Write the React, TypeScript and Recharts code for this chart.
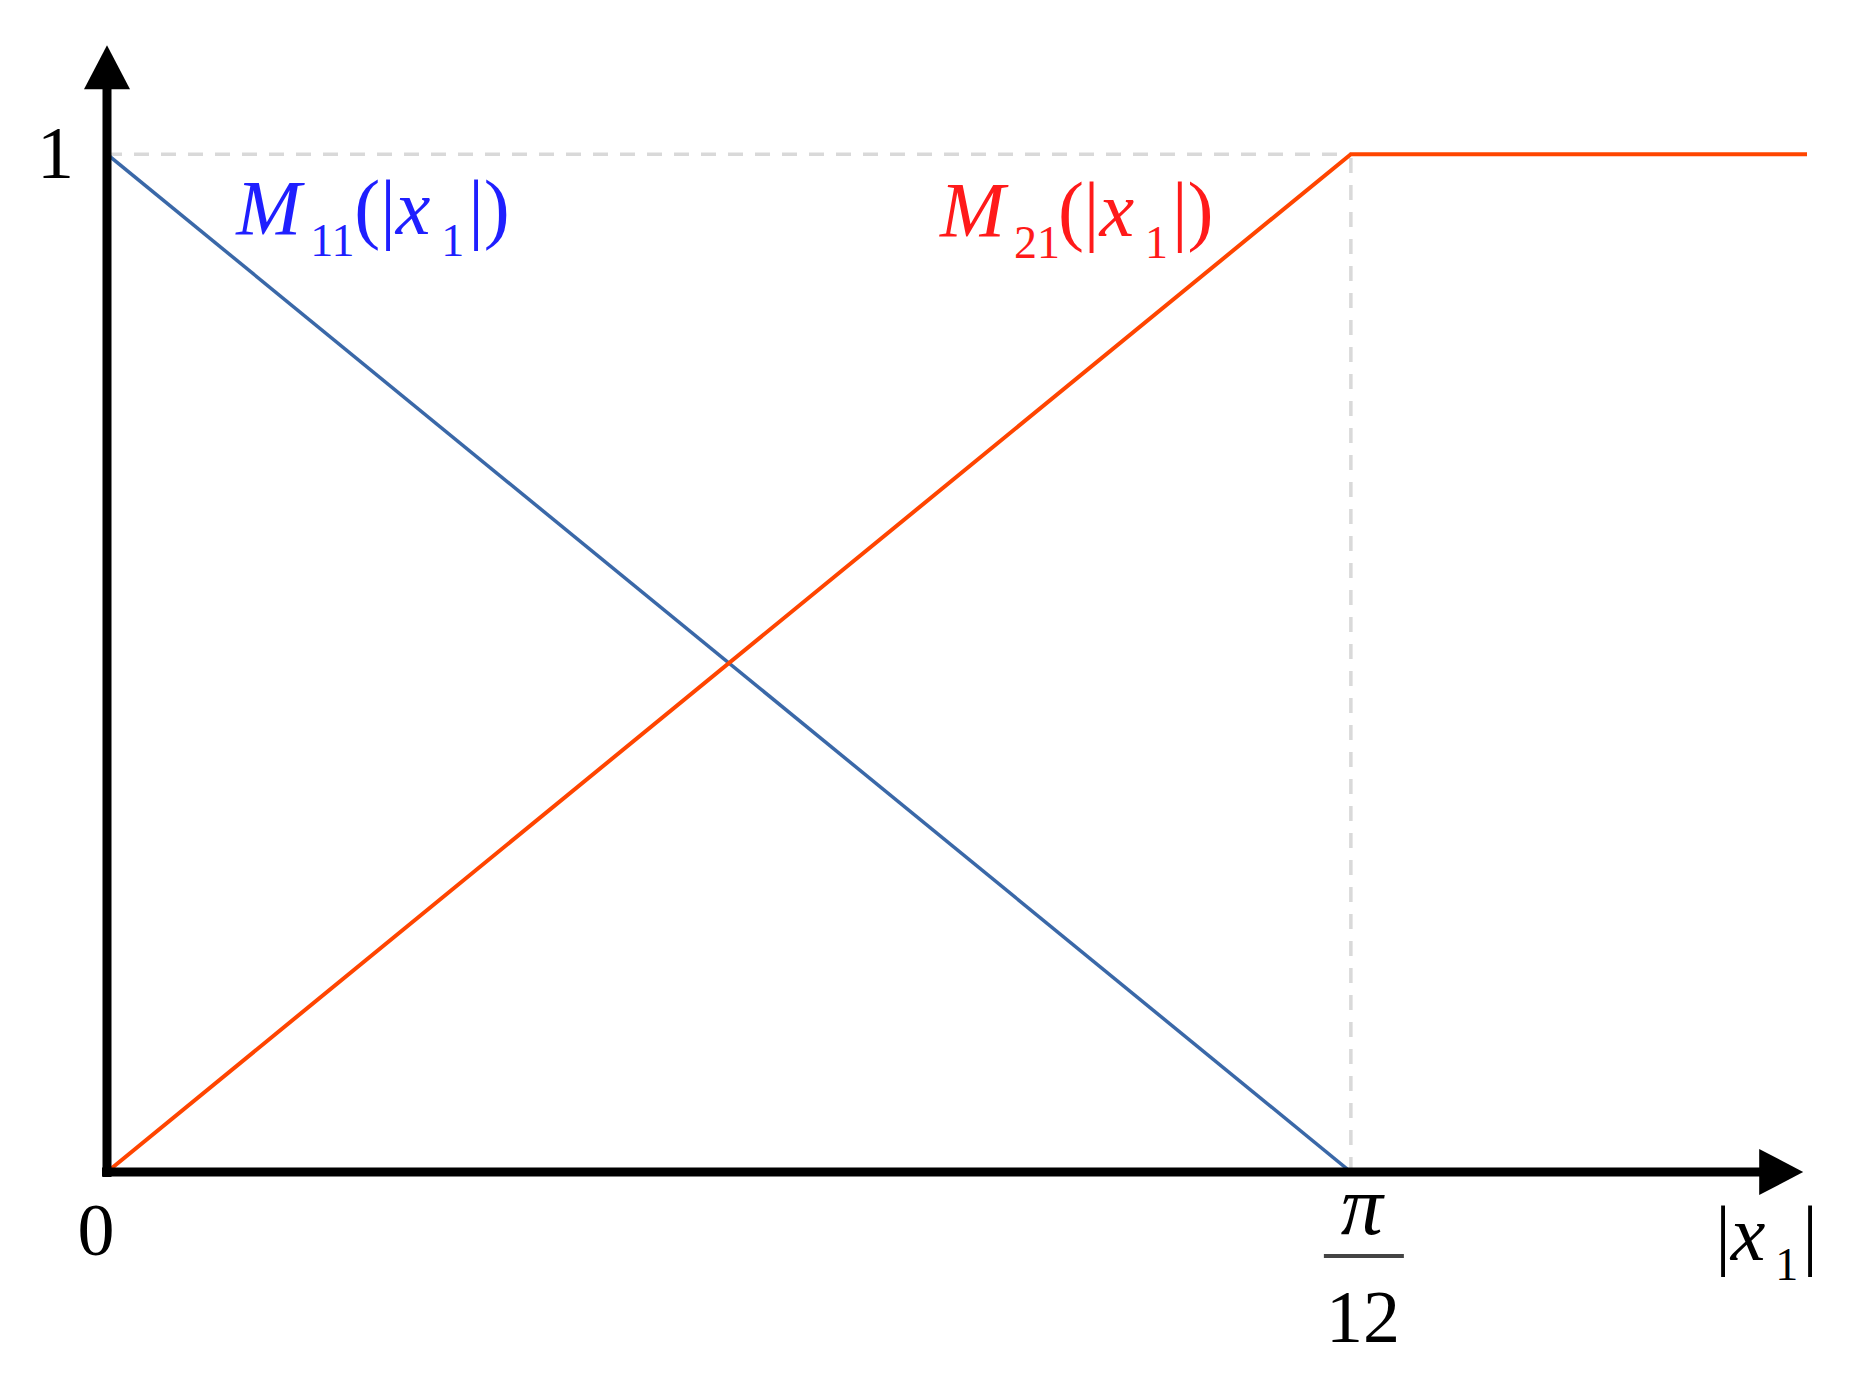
import { ComposedChart, Line, ReferenceDot, ReferenceLine, XAxis, YAxis } from "recharts";

// |x1| samples: origin, pi/12 break point, right end of the plot
const xValues = [0, 0.2618, 0.3578];
const m11Values = [1, 0, null];
const m21Values = [0, 1, 1];

const xTicks = [0, 0.2618];
const yTicks = [1];
const xMax = 0.3578;
const yMax = 1.12;
const xArrowEnd = 0.357;
const yArrowEnd = 1.107;

const data = xValues.map((x, i) => ({ x, m11: m11Values[i], m21: m21Values[i] }));

const colors = {
  m11Line: "#3a68a8",
  m21Line: "#ff4500",
  m11Text: "#1f1fff",
  m21Text: "#ff1a1a",
  grid: "#d9d9d9",
  axis: "#000",
};

const serif = "'Liberation Serif', 'DejaVu Serif', serif";

function ArrowAxis(props: any) {
  const { x1, y1, x2, y2, horizontal } = props;
  const head = 44;
  const half = 23;
  if (horizontal) {
    return (
      <g>
        <line x1={x1 - 5} y1={y1} x2={x2 - head + 2} y2={y2} stroke={colors.axis} strokeWidth={9} />
        <polygon points={`${x2},${y2} ${x2 - head},${y2 - half} ${x2 - head},${y2 + half}`} fill={colors.axis} />
        <text x={x2 - 88} y={y2 + 88} fontFamily={serif} fontSize={78} fill="#000">
          <tspan>|</tspan>
          <tspan fontStyle="italic">x</tspan>
          <tspan x={x2 - 28} dy={20} fontSize={46}>1</tspan>
          <tspan x={x2 - 1} dy={-20}>|</tspan>
        </text>
      </g>
    );
  }
  return (
    <g>
      <line x1={x1} y1={y1 + 5} x2={x2} y2={y2 + head - 2} stroke={colors.axis} strokeWidth={9} />
      <polygon points={`${x2},${y2} ${x2 - half},${y2 + head} ${x2 + half},${y2 + head}`} fill={colors.axis} />
    </g>
  );
}

function MathName({ cx, cy, sub, color }: any) {
  return (
    <text x={cx} y={cy} fontFamily={serif} fontSize={78} fill={color}>
      <tspan fontStyle="italic">M</tspan>
      <tspan x={cx + 74} dy={22} fontSize={46}>{sub}</tspan>
      <tspan x={cx + 118} dy={-22}>(|</tspan>
      <tspan fontStyle="italic">x</tspan>
      <tspan x={cx + 205} dy={22} fontSize={46}>1</tspan>
      <tspan x={cx + 232} dy={-22}>|)</tspan>
    </text>
  );
}

function XTick({ x, y, payload }: any) {
  if (payload.value === 0) {
    return (
      <text x={x - 11} y={y + 83} textAnchor="middle" fontFamily={serif} fontSize={74} fill="#000">
        0
      </text>
    );
  }
  return (
    <g fontFamily={serif} fill="#000">
      <text x={x + 11} y={y + 62} textAnchor="middle" fontStyle="italic" fontSize={84}>
        π
      </text>
      <line x1={x - 27} x2={x + 53} y1={y + 84} y2={y + 84} stroke="#444" strokeWidth={4} />
      <text x={x + 12} y={y + 170} textAnchor="middle" fontSize={74}>
        12
      </text>
    </g>
  );
}

function YTick({ x, y, payload }: any) {
  return (
    <text x={x - 33} y={y + 24} textAnchor="end" fontFamily={serif} fontSize={74} fill="#000">
      {payload.value}
    </text>
  );
}

export default function App() {
  return (
    <ComposedChart
      width={1854}
      height={1383}
      data={data}
      margin={{ top: 24, right: 55, left: 0, bottom: 0 }}
    >
      <XAxis
        type="number"
        dataKey="x"
        domain={[0, xMax]}
        ticks={xTicks}
        allowDataOverflow
        axisLine={false}
        tickLine={false}
        tickSize={0}
        tickMargin={0}
        height={219}
        tick={<XTick />}
      />
      <YAxis
        type="number"
        domain={[0, yMax]}
        ticks={yTicks}
        allowDataOverflow
        axisLine={false}
        tickLine={false}
        tickSize={0}
        tickMargin={0}
        width={99}
        tick={<YTick />}
      />

      <ReferenceLine
        segment={[{ x: 0, y: 1 }, { x: xTicks[1], y: 1 }]}
        stroke={colors.grid}
        strokeWidth={3.5}
        strokeDasharray="15 12"
      />
      <ReferenceLine
        segment={[{ x: xTicks[1], y: 0 }, { x: xTicks[1], y: 1 }]}
        stroke={colors.grid}
        strokeWidth={3.5}
        strokeDasharray="15 12"
      />

      <Line
        type="linear"
        dataKey="m11"
        stroke={colors.m11Line}
        strokeWidth={3.5}
        dot={false}
        activeDot={false}
        isAnimationActive={false}
      />
      <Line
        type="linear"
        dataKey="m21"
        stroke={colors.m21Line}
        strokeWidth={4}
        dot={false}
        activeDot={false}
        isAnimationActive={false}
      />

      <ReferenceLine
        segment={[{ x: 0, y: 0 }, { x: xArrowEnd, y: 0 }]}
        shape={(p: any) => <ArrowAxis {...p} horizontal />}
      />
      <ReferenceLine
        segment={[{ x: 0, y: 0 }, { x: 0, y: yArrowEnd }]}
        shape={(p: any) => <ArrowAxis {...p} />}
      />

      <ReferenceDot
        x={0.0272}
        y={0.922}
        r={0}
        shape={(p: any) => <MathName cx={p.cx} cy={p.cy} sub="11" color={colors.m11Text} />}
      />
      <ReferenceDot
        x={0.1753}
        y={0.92}
        r={0}
        shape={(p: any) => <MathName cx={p.cx} cy={p.cy} sub="21" color={colors.m21Text} />}
      />
    </ComposedChart>
  );
}
